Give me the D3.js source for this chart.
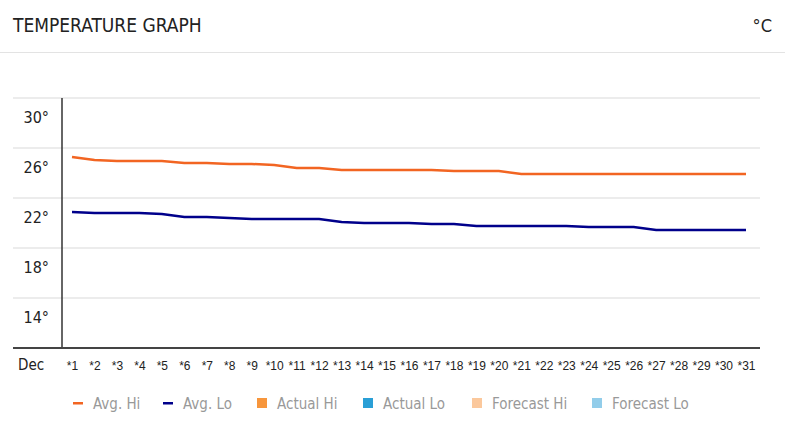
<!DOCTYPE html><html><head><meta charset="utf-8">
<script src="https://cdn.jsdelivr.net/npm/d3@7"></script>
<style>body{margin:0;background:#fff}text{font-family:"Liberation Sans Narrow","DejaVu Sans Condensed",sans-serif}</style></head><body>
<svg id="c" width="785" height="423"></svg>
<script>
const days = d3.range(1,32).map(d=>"*"+d);
const avgHi = [27.28,27.04,26.96,26.96,26.96,26.8,26.8,26.72,26.72,26.64,26.4,26.4,26.24,26.24,26.24,26.24,26.24,26.16,26.16,26.16,25.92,25.92,25.92,25.92,25.92,25.92,25.92,25.92,25.92,25.92,25.92];
const avgLo = [22.88,22.8,22.8,22.8,22.72,22.48,22.48,22.4,22.32,22.32,22.32,22.32,22.08,22,22,22,21.92,21.92,21.76,21.76,21.76,21.76,21.76,21.68,21.68,21.68,21.44,21.44,21.44,21.44,21.44];
const yTicks = [30,26,22,18,14];
const gridVals = [32,28,24,20,16];
const legend = [["Avg. Hi","#f26522","line"],["Avg. Lo","#00008b","line"],["Actual Hi","#f7963c","sq"],["Actual Lo","#2a9fd6","sq"],["Forecast Hi","#fbc89c","sq"],["Forecast Lo","#92cdea","sq"]];
const legendX = [73,163,257,363,472,592];

const svg = d3.select("#c");
svg.append("text").attr("x",13).attr("y",32).attr("font-size",19).attr("fill","#222").text("TEMPERATURE GRAPH");
svg.append("text").attr("x",772).attr("y",32).attr("text-anchor","end").attr("font-size",18).attr("fill","#222").text("°C");
svg.append("line").attr("x1",0).attr("x2",785).attr("y1",52.5).attr("y2",52.5).attr("stroke","#e3e3e3");

const y = d3.scaleLinear().domain([12,32]).range([348,98]);
const x = d3.scalePoint().domain(days).range([72,746]);
gridVals.forEach(v=>svg.append("line").attr("x1",13).attr("x2",760).attr("y1",y(v)).attr("y2",y(v)).attr("stroke","#ececec").attr("stroke-width",2));
yTicks.forEach(v=>svg.append("text").attr("x",49).attr("y",y(v)-6).attr("dy","0.35em").attr("text-anchor","end").attr("font-size",16).attr("fill","#222").text(v+"°"));
svg.append("line").attr("x1",62).attr("x2",62).attr("y1",98).attr("y2",348).attr("stroke","#333").attr("stroke-width",1.5);
svg.append("line").attr("x1",13).attr("x2",760).attr("y1",348).attr("y2",348).attr("stroke","#444").attr("stroke-width",2);
svg.append("text").attr("x",18).attr("y",370).attr("font-size",15).attr("fill","#222").text("Dec");
const xa = svg.append("g").attr("transform","translate(0,358)").call(d3.axisBottom(x).tickSize(0));
xa.select(".domain").remove();
xa.selectAll("text").attr("font-size",12).attr("fill","#222").style("font-family",'"Liberation Sans Narrow",sans-serif');

const line = d3.line().x((d,i)=>x(days[i])).y(d=>y(d));
svg.append("path").datum(avgHi).attr("d",line).attr("fill","none").attr("stroke","#f26522").attr("stroke-width",2.5);
svg.append("path").datum(avgLo).attr("d",line).attr("fill","none").attr("stroke","#00008b").attr("stroke-width",2.5);

legend.forEach((l,i)=>{
  const lx=legendX[i];
  if(l[2]=="line") svg.append("rect").attr("x",lx).attr("y",402).attr("width",10).attr("height",2.5).attr("fill",l[1]);
  else svg.append("rect").attr("x",lx).attr("y",398).attr("width",10).attr("height",10).attr("fill",l[1]);
  svg.append("text").attr("x",lx+20).attr("y",409).attr("font-size",15).attr("fill","#999").text(l[0]);
});
</script></body></html>
